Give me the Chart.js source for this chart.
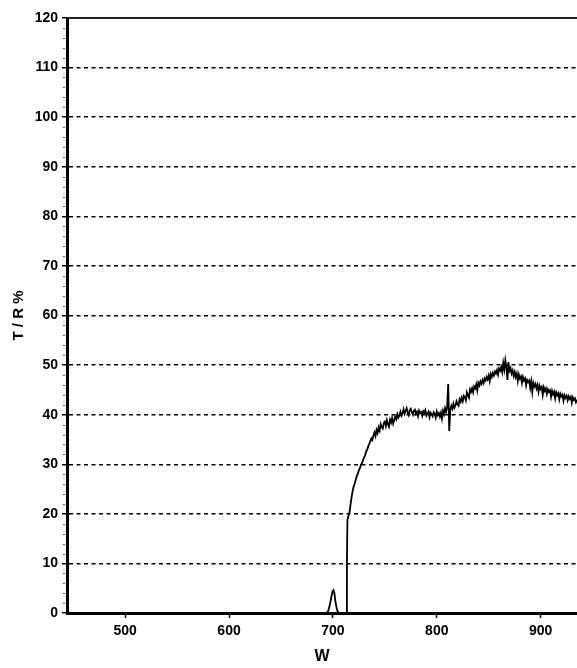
<!DOCTYPE html>
<html>
<head>
<meta charset="utf-8">
<script src="https://cdn.jsdelivr.net/npm/chart.js@4/dist/chart.umd.min.js"></script>
<style>
html,body{margin:0;padding:0;background:#fff;}
canvas{display:block;}
</style>
</head>
<body>
<canvas id="c" width="577" height="668"></canvas>
<script>
// Wavelength (W) sample positions
const wavelengths = [
  444, 694, 695.5, 697, 698.5, 699.5, 700.5, 701.5, 702.5, 704, 705.5, 713, 713.5, 714,
  715, 716, 717, 718, 719, 720, 721, 722, 723, 724,
  725, 726, 727, 728, 729, 730, 731, 732, 733, 734,
  735, 736, 737, 738, 739, 740, 741, 742, 743, 744,
  745, 746, 747, 748, 749, 750, 751, 752, 753, 754,
  755, 756, 757, 758, 759, 760, 761, 762, 763, 764,
  765, 766, 767, 768, 769, 770, 771, 772, 773, 774,
  775, 776, 777, 778, 779, 780, 781, 782, 783, 784,
  785, 786, 787, 788, 789, 790, 791, 792, 793, 794,
  795, 796, 797, 798, 799, 800, 801, 802, 803, 804,
  805, 806, 807, 808, 809, 810, 811, 812, 813, 814,
  815, 816, 817, 818, 819, 820, 821, 822, 823, 824,
  825, 826, 827, 828, 829, 830, 831, 832, 833, 834,
  835, 836, 837, 838, 839, 840, 841, 842, 843, 844,
  845, 846, 847, 848, 849, 850, 851, 852, 853, 854,
  855, 856, 857, 858, 859, 860, 861, 862, 863, 864,
  865, 866, 867, 868, 869, 870, 871, 872, 873, 874,
  875, 876, 877, 878, 879, 880, 881, 882, 883, 884,
  885, 886, 887, 888, 889, 890, 891, 892, 893, 894,
  895, 896, 897, 898, 899, 900, 901, 902, 903, 904,
  905, 906, 907, 908, 909, 910, 911, 912, 913, 914,
  915, 916, 917, 918, 919, 920, 921, 922, 923, 924,
  925, 926, 927, 928, 929, 930, 931, 932, 933, 934,
  935
];
// T / R % values
const transmission = [
  0, 0, 0.4, 1.6, 3.2, 4.3, 4.6, 3.9, 2.2, 0.6, 0, 0, 10.7, 18.8,
  19.6, 20.3, 21.9, 23.4, 24.6, 25.5, 26.1, 26.9, 27.6, 28.1,
  28.8, 29.2, 29.9, 30.2, 30.9, 31.4, 31.8, 32.6, 32.9, 33.6,
  34.1, 34.6, 35.2, 34.9, 35.8, 36.4, 35.7, 36.9, 36.3, 37.4,
  36.8, 38.1, 37.5, 37.2, 38.3, 38.6, 37.7, 38.9, 38.1, 37.6,
  39.0, 38.4, 39.3, 38.2, 38.9, 39.6, 39.1, 40.1, 39.4, 39.8,
  40.6, 39.8, 40.3, 41.1, 40.2, 40.8, 41.3, 40.4, 39.9, 40.9,
  41.2, 40.5, 40.0, 40.8, 41.0, 40.2, 40.6, 39.7, 40.8, 40.3,
  40.5, 39.8, 40.7, 40.4, 40.9, 39.8, 40.2, 40.6, 39.5, 40.4,
  40.1, 39.7, 40.5, 40.2, 39.4, 40.6, 39.9, 40.3, 39.6, 40.4,
  39.2, 40.8, 40.1, 41.3, 40.6, 41.6, 46.2, 36.7, 41.0, 41.8,
  41.2, 42.2, 41.4, 41.9, 42.7, 42.1, 41.8, 43.1, 42.6, 43.4,
  42.7, 43.8, 43.5, 42.9, 44.5, 43.9, 43.4, 45.1, 44.6, 45.3,
  44.5, 45.7, 45.3, 46.1, 44.9, 46.4, 45.9, 46.7, 46.2, 47.0,
  46.4, 47.3, 46.9, 47.6, 47.1, 47.9, 46.8, 48.2, 47.6, 48.4,
  47.9, 48.7, 48.3, 49.0, 48.1, 49.3, 48.9, 49.6, 48.6, 50.4,
  49.1, 51.0, 49.6, 47.0, 50.6, 48.9, 49.4, 48.3, 48.9, 47.8,
  48.6, 47.6, 48.3, 46.8, 48.1, 47.3, 47.7, 46.4, 47.6, 46.9,
  47.3, 45.9, 47.0, 46.6, 46.9, 45.4, 46.7, 44.6, 46.4, 45.7,
  46.2, 45.3, 46.0, 44.6, 45.8, 45.2, 45.6, 44.0, 45.5, 44.8,
  45.3, 44.2, 45.1, 44.6, 44.9, 43.6, 44.8, 44.1, 44.6, 43.3,
  44.5, 43.9, 44.3, 43.1, 44.2, 43.7, 44.0, 42.8, 43.9, 43.4,
  43.8, 42.9, 43.7, 43.2, 43.6, 42.4, 43.5, 43.0, 43.3, 42.5,
  43.0
];
const xTickValues = [500, 600, 700, 800, 900];
const yTickValues = [0, 10, 20, 30, 40, 50, 60, 70, 80, 90, 100, 110, 120];
const xAxisTitle = 'W';
const yAxisTitle = 'T / R %';

const points = wavelengths.map((w, i) => ({x: w, y: transmission[i]}));

const FONT = 'Liberation Sans, Arial, sans-serif';

const frame = {
  id: 'frame',
  afterDraw(chart) {
    const {ctx, chartArea, scales} = chart;
    const y = scales.y;
    ctx.save();
    // top border
    ctx.strokeStyle = '#222';
    ctx.lineWidth = 2;
    ctx.beginPath();
    ctx.moveTo(chartArea.left, chartArea.top);
    ctx.lineTo(chartArea.right, chartArea.top);
    ctx.stroke();
    // minor y ticks
    ctx.strokeStyle = '#555';
    ctx.lineWidth = 1;
    for (let v = 2; v < 120; v += 2) {
      if (v % 10 === 0) continue;
      const py = Math.round(y.getPixelForValue(v)) + 0.5;
      ctx.beginPath();
      ctx.moveTo(chartArea.left - 4, py);
      ctx.lineTo(chartArea.left - 2, py);
      ctx.stroke();
    }
    ctx.restore();
  }
};

new Chart(document.getElementById('c'), {
  type: 'line',
  data: {
    datasets: [{
      data: points,
      borderColor: '#000',
      borderWidth: 1.8,
      pointRadius: 0,
      tension: 0,
      fill: false
    }]
  },
  options: {
    responsive: false,
    animation: false,
    layout: {padding: {top: 18, right: 0, left: 0, bottom: 0}},
    plugins: {legend: {display: false}, tooltip: {enabled: false}},
    scales: {
      x: {
        type: 'linear',
        min: 444,
        max: 935,
        afterBuildTicks(scale) { scale.ticks = xTickValues.map(v => ({value: v})); },
        afterFit(scale) { scale.height = 55; },
        ticks: {
          color: '#000',
          font: {family: FONT, size: 14, weight: 'bold'},
          padding: 5,
          maxRotation: 0
        },
        grid: {drawOnChartArea: false, drawTicks: true, tickLength: 5, tickColor: '#000', tickWidth: 1.5},
        border: {display: true, color: '#000', width: 3},
        title: {
          display: true,
          text: xAxisTitle,
          color: '#000',
          font: {family: FONT, size: 16, weight: 'bold'},
          padding: {top: 0, bottom: 2}
        }
      },
      y: {
        min: 0,
        max: 120,
        afterBuildTicks(scale) { scale.ticks = yTickValues.map(v => ({value: v})); },
        afterFit(scale) { scale.width = 67; },
        ticks: {
          color: '#000',
          font: {family: FONT, size: 14, weight: 'bold'},
          padding: 4
        },
        grid: {
          drawOnChartArea: true,
          drawTicks: true,
          tickLength: 5,
          tickColor: '#000',
          tickWidth: 1.5,
          color: ctx => (ctx.tick && (ctx.tick.value === 0 || ctx.tick.value === 120)) ? 'rgba(0,0,0,0)' : '#000',
          lineWidth: 1.5
        },
        border: {display: true, color: '#000', width: 3, dash: [4, 3.5]},
        title: {
          display: true,
          text: yAxisTitle,
          color: '#000',
          font: {family: FONT, size: 15, weight: 'bold'},
          padding: {top: 10, bottom: 0}
        }
      }
    }
  },
  plugins: [frame]
});
</script>
</body>
</html>
